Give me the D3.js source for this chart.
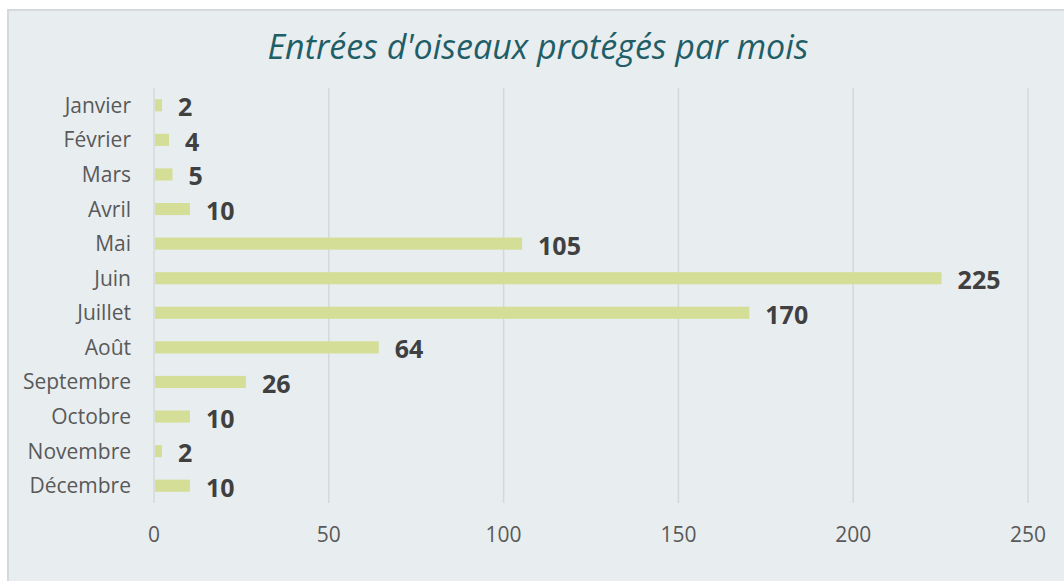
<!DOCTYPE html>
<html>
<head>
<meta charset="utf-8">
<script src="https://cdn.jsdelivr.net/npm/d3@7"></script>
<style>
  body { margin: 0; background: #fff; }
  svg { display: block; }
</style>
</head>
<body>
<div id="chart"></div>
<script>
const months = ["Janvier", "Février", "Mars", "Avril", "Mai", "Juin", "Juillet",
    "Août", "Septembre", "Octobre", "Novembre", "Décembre"];
const entries = [2, 4, 5, 10, 105, 225, 170, 64, 26, 10, 2, 10];
const xTicks = [0, 50, 100, 150, 200, 250];
const title = "Entrées d'oiseaux protégés par mois";

const width = 1064, height = 581;
const font = "'Open Sans', sans-serif";

const svg = d3.select("#chart").append("svg")
    .attr("width", width)
    .attr("height", height);

// chart frame
svg.append("rect")
    .attr("x", 8).attr("y", 10)
    .attr("width", 1080).attr("height", 600)
    .attr("fill", "#e8edf0")
    .attr("stroke", "#d6d9db")
    .attr("stroke-width", 2);

svg.append("text")
    .attr("x", 538).attr("y", 59)
    .attr("text-anchor", "middle")
    .style("font-family", font)
    .style("font-style", "italic")
    .style("font-size", "34px")
    .attr("fill", "#1f5e67")
    .text(title);

const plot = { left: 154, right: 1028, top: 88, bottom: 503 };

const x = d3.scaleLinear().domain([0, 250]).range([plot.left, plot.right]);
const y = d3.scaleBand().domain(months).range([plot.top, plot.bottom]).paddingInner(0.65).paddingOuter(0.325);

// gridlines
svg.append("g").selectAll("line")
    .data(xTicks)
    .join("line")
    .attr("x1", d => x(d)).attr("x2", d => x(d))
    .attr("y1", plot.top).attr("y2", plot.bottom)
    .attr("stroke", "#d5d8da")
    .attr("stroke-width", 1.5);

// x tick labels
svg.append("g").selectAll("text")
    .data(xTicks)
    .join("text")
    .attr("x", d => x(d))
    .attr("y", 542)
    .attr("text-anchor", "middle")
    .style("font-family", font)
    .style("font-size", "21px")
    .attr("fill", "#595959")
    .text(d => d);

// month labels
svg.append("g").selectAll("text")
    .data(months)
    .join("text")
    .attr("x", 131)
    .attr("y", d => y(d) + y.bandwidth() / 2 + 7.5)
    .attr("text-anchor", "end")
    .style("font-family", font)
    .style("font-size", "21px")
    .attr("fill", "#595959")
    .text(d => d);

// bars
svg.append("g").selectAll("rect")
    .data(entries)
    .join("rect")
    .attr("x", x(0) + 1)
    .attr("y", (d, i) => y(months[i]))
    .attr("width", d => x(d) - x(0))
    .attr("height", y.bandwidth())
    .attr("fill", "#d4de96");

// value labels
svg.append("g").selectAll("text")
    .data(entries)
    .join("text")
    .attr("x", d => x(d) + 17)
    .attr("y", (d, i) => y(months[i]) + y.bandwidth() / 2 + 11)
    .style("font-family", font)
    .style("font-size", "25px")
    .style("font-weight", "bold")
    .attr("fill", "#404040")
    .text(d => d);
</script>
</body>
</html>
